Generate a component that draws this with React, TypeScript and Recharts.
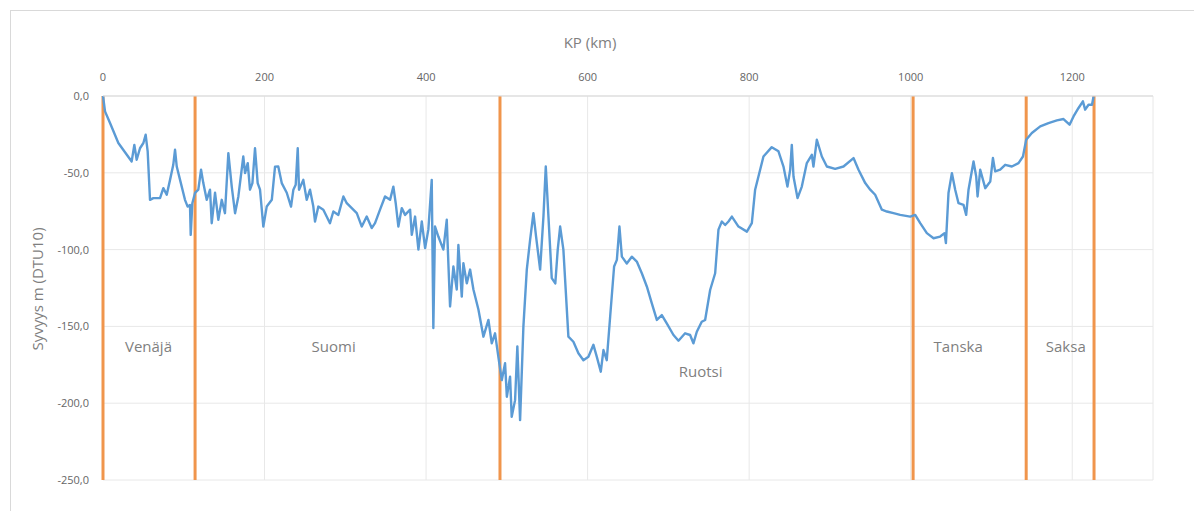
import React from 'react';
import {
  LineChart,
  Line,
  XAxis,
  YAxis,
  CartesianGrid,
  ReferenceLine,
  ReferenceDot,
} from 'recharts';

// KP (km) along the pipeline route
const kp: number[] = [
  0, 2.5, 8.7, 19, 35.5, 38.8, 41.7, 45.8, 50, 52.8, 55.3, 58.2, 62.3, 70.6, 74.7, 78.9, 83, 87, 89.2, 91.3,
  95.4, 101.5, 104.8, 107.7, 108.6, 110.6, 114, 118, 121.4, 124.2, 128.4, 132.5, 134.6, 138.7, 142.8, 147, 151,
  155.2, 159.4, 163.5, 167.6, 173.7, 175.9, 179.2, 182, 185, 188.2, 191.5, 194.4, 198.5, 202.7, 209, 213, 217,
  221.3, 227.5, 232.8, 235.7, 238.6, 241.1, 242.7, 248, 252.2, 256.3, 260.4, 262.5, 266.6, 272.8, 281, 285.2,
  291.4, 297.6, 301.8, 308, 314.2, 320.4, 326.5, 332.7, 336.8, 343, 349.2, 355.4, 359.5, 362.4, 365.7, 369.9,
  374, 380.2, 382.3, 386.4, 390.5, 394.7, 398.8, 402.8, 407, 409, 411.1, 415.2, 421.4, 425.6, 427.6, 429.7,
  433.8, 438, 440, 444.2, 446.2, 450.4, 454.5, 458.6, 464.8, 471, 477.2, 481.3, 485.4, 489.5, 493.7, 497.8, 500,
  504, 506, 510.2, 513, 516.4, 520.5, 524.7, 528.8, 532.9, 536.2, 541.2, 545.3, 548.2, 551.5, 555.6, 560, 563,
  566, 570, 576.2, 582.4, 588.6, 594.8, 601, 607.2, 611.4, 616.3, 619.6, 623.7, 627.9, 632.8, 636.2, 639.4,
  642.4, 648.5, 654.7, 660.9, 667.1, 673.3, 679.5, 685.7, 691.9, 698, 706.3, 712.5, 720.7, 726.9, 731, 735.2,
  741.3, 745.5, 751.7, 757.9, 762, 766.2, 770.3, 774.4, 778.6, 786.8, 797.2, 803.3, 807.4, 817.7, 828, 836.3,
  842.5, 847.4, 850.8, 852.8, 854.9, 859.9, 865.2, 871.4, 877.6, 879.6, 883.8, 890, 896.2, 906.5, 916.8, 929.2,
  935.4, 943.7, 949.9, 956, 964.3, 970.5, 978.7, 987, 999.4, 1005.6, 1011.8, 1020, 1028.3, 1036.5, 1041.9,
  1043.6, 1046.8, 1051, 1055.1, 1059.2, 1065.4, 1068.7, 1071.6, 1077.8, 1081.1, 1082.8, 1086.1, 1092.3, 1098.5,
  1101.8, 1104.6, 1110.8, 1117, 1125.3, 1133.5, 1139, 1143, 1150, 1160.4, 1170.6, 1181, 1189.2, 1196.7, 1201.6,
  1207.8, 1213.2, 1216, 1220.2, 1224.5, 1226.4,
];

// Depth (m, DTU10)
const depth: number[] = [
  0, -10, -17.6, -30.6, -42.6, -31.8, -41.5, -34, -30.6, -25.2, -36, -67.6, -66.5, -66.5, -60, -64.3, -54.6, -44.8, -35, -45.9,
  -54.6, -67.6, -72, -70.9, -90.4, -69.8, -63, -61, -48, -56.7, -67.6, -61, -82.8, -63, -80.6, -67.6, -76.3,
  -37.2, -59, -76.3, -65.4, -39.4, -50.2, -43.7, -61, -56.7, -34, -56.7, -61, -85, -72, -67.6, -46, -45.9,
  -56.7, -63, -72, -61, -57.8, -34, -61, -54.6, -67.6, -61, -72, -81.7, -72, -74, -82.8, -75.2,
  -77.4, -65.4, -69.8, -73, -76.3, -85, -78.5, -86, -82.8, -74, -65.4, -67.6, -59, -69.8, -85, -73,
  -77.4, -74, -90.4, -78.5, -100, -81.7, -99, -87, -54.6, -151, -85, -91.5, -100, -80.6, -108.9, -137,
  -111, -126, -97, -130.6, -108.9, -122, -113, -126, -139, -156.7, -145.8, -161, -154.5, -169.8, -185, -174, -195.8,
  -182.8, -208.9, -198, -163, -211, -150, -113, -93.7, -76.3, -91.5, -113, -78.5, -45.9, -78.5, -118.6, -122, -100,
  -85, -100, -156.7, -160, -167.5, -172, -169.8, -162, -169.8, -179.5, -165.4, -172, -143.7, -111, -106.7, -85,
  -104.6, -109, -104.6, -107.8, -115.4, -124, -135, -145.8, -142.6, -148, -155.6, -159.3, -154.5, -155.6, -161, -153.5,
  -147, -145.8, -126.3, -115.4, -87, -81.7, -84, -81.7, -78.5, -85, -88.3, -82.8, -61, -39.4, -33.3, -36,
  -45.9, -59, -48, -31.8, -52.4, -66.5, -59, -43.7, -38.3, -45.9, -28.5, -39.4, -45.9, -47.4, -45.9, -40.4,
  -48, -56.7, -61, -64.3, -74, -75.2, -76.3, -77.4, -78.5, -77.4, -82.8, -89.3, -92.6, -91.5, -89.3,
  -95.8, -63.2, -50.2, -61, -69.8, -70.9, -77.4, -61, -42.6, -52.4, -65.4, -48, -60, -55.7,
  -40.4, -49.1, -48, -44.8, -45.9, -43.7, -39.4, -28.5, -24.1, -19.8, -17.6, -15.9, -15, -18.7, -13.3,
  -7.8, -3.5, -8.9, -5.7, -5.7, -0.3,
];

// Border KPs between countries
const borderKp: number[] = [0, 114, 491.5, 1003, 1143, 1227];

// Country names and where they sit (KP, depth)
const countryNames: string[] = ['Venäjä', 'Suomi', 'Ruotsi', 'Tanska', 'Saksa'];
const countryKp: number[] = [56.3, 285.6, 740, 1058.8, 1192];
const countryDepth: number[] = [-163, -163, -179.5, -163, -163];

const xTicks: number[] = [0, 200, 400, 600, 800, 1000, 1200];
const yTicks: number[] = [-250, -200, -150, -100, -50, 0];

const data = kp.map((k, i) => ({ kp: k, depth: depth[i] }));

const fmtY = (v: number) => v.toFixed(1).replace('.', ',');

const FONT = '"Open Sans", "Noto Sans", sans-serif';
const GREY = '#7f7f7f';

export default function App() {
  return (
    <div
      style={{
        position: 'absolute',
        left: 0,
        top: 0,
        width: 1194,
        height: 511,
        background: '#ffffff',
        overflow: 'hidden',
        fontFamily: FONT,
      }}
    >
      <div
        style={{
          position: 'absolute',
          left: 10,
          top: 10,
          width: 1200,
          height: 520,
          border: '1px solid #d9d9d9',
          boxSizing: 'border-box',
        }}
      />
      <div style={{ position: 'absolute', left: 0, top: 0 }}>
        <LineChart
          width={1194}
          height={511}
          data={data}
          margin={{ top: 66, left: 43, right: 41, bottom: 31 }}
        >
          <CartesianGrid stroke="#e8e8e8" strokeWidth={1} />
          <XAxis
            dataKey="kp"
            type="number"
            orientation="top"
            domain={[0, 1300]}
            ticks={xTicks}
            height={30}
            axisLine={{ stroke: '#d9d9d9' }}
            tickLine={false}
            tickSize={6}
            tickMargin={9}
            tick={{ fill: '#666666', fontSize: 11, fontFamily: FONT }}
            interval={0}
          />
          <YAxis
            type="number"
            domain={[-250, 0]}
            ticks={yTicks}
            width={60}
            axisLine={false}
            tickLine={false}
            tickSize={6}
            tickMargin={8}
            tickFormatter={fmtY}
            tick={{ fill: '#666666', fontSize: 11, fontFamily: FONT }}
            interval={0}
          />
          {borderKp.map((b) => (
            <ReferenceLine key={b} x={b} stroke="#f0954c" strokeWidth={3} ifOverflow="extendDomain" />
          ))}
          <Line
            type="linear"
            dataKey="depth"
            stroke="#5b9bd5"
            strokeWidth={2.4}
            strokeLinejoin="round"
            dot={false}
            isAnimationActive={false}
          />
          {countryNames.map((name, i) => (
            <ReferenceDot
              key={name}
              x={countryKp[i]}
              y={countryDepth[i]}
              r={0}
              fill="none"
              stroke="none"
              label={{ value: name, position: 'center', fill: GREY, fontSize: 15, fontFamily: FONT }}
            />
          ))}
        </LineChart>
      </div>
      <div
        style={{
          position: 'absolute',
          left: 490,
          top: 31,
          width: 200,
          textAlign: 'center',
          fontSize: 15,
          color: GREY,
          lineHeight: '22px',
        }}
      >
        KP (km)
      </div>
      <div
        style={{
          position: 'absolute',
          left: 37 - 100,
          top: 289 - 11,
          width: 200,
          height: 22,
          textAlign: 'center',
          fontSize: 15,
          color: GREY,
          lineHeight: '22px',
          transform: 'rotate(-90deg)',
          whiteSpace: 'nowrap',
        }}
      >
        Syvyys m (DTU10)
      </div>
    </div>
  );
}
